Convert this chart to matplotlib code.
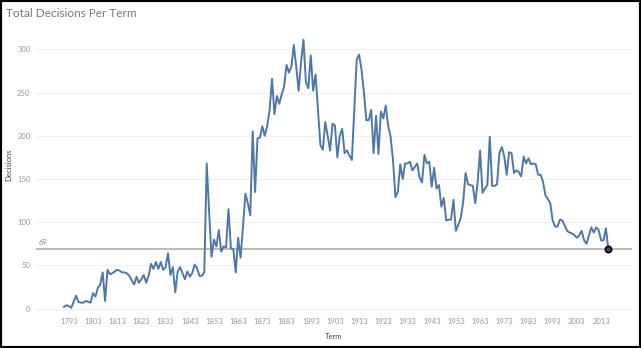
import matplotlib
matplotlib.use('Agg')
import matplotlib.pyplot as plt
import numpy as np
from matplotlib.patches import Rectangle

plt.rcParams['font.family'] = ['Lato', 'DejaVu Sans']

years = np.arange(1791, 2017)
decisions = [
    2, 4, 3, 1, 8, 15, 8, 7, 7, 9,            # 1791-1800
    8, 7, 18, 14, 24, 28, 42, 9, 45, 40,      # 1801-1810
    41, 43, 45, 44, 42, 42, 41, 38, 33, 28,   # 1811-1820
    37, 30, 34, 39, 30, 38, 52, 46, 54, 46,   # 1821-1830
    54, 45, 48, 64, 39, 48, 19, 43, 48, 41,   # 1831-1840
    34, 43, 37, 41, 51, 47, 38, 38, 42, 168,  # 1841-1850
    112, 60, 80, 72, 91, 66, 72, 71, 115, 70, # 1851-1860
    69, 42, 82, 59, 95, 133, 122, 108, 205, 135,  # 1861-1870
    197, 198, 211, 200, 211, 230, 266, 225, 246, 237,  # 1871-1880
    248, 257, 282, 273, 280, 305, 280, 252, 285, 311,  # 1881-1890
    262, 255, 293, 252, 271, 230, 189, 184, 216, 200,  # 1891-1900
    183, 214, 212, 175, 200, 208, 180, 183, 177, 172,  # 1901-1910
    230, 288, 294, 276, 250, 218, 218, 230, 180, 223,  # 1911-1920
    179, 228, 220, 235, 212, 199, 172, 129, 135, 167,  # 1921-1930
    150, 168, 168, 170, 160, 164, 168, 152, 146, 178,  # 1931-1940
    168, 170, 141, 163, 139, 143, 118, 128, 102, 103,  # 1941-1950
    103, 126, 90, 97, 105, 123, 157, 144, 143, 142,    # 1951-1960
    122, 147, 183, 134, 139, 143, 199, 142, 142, 144,  # 1961-1970
    180, 187, 176, 155, 181, 180, 157, 160, 158, 153,  # 1971-1980
    176, 168, 174, 167, 168, 167, 155, 155, 147, 131,  # 1981-1990
    127, 122, 102, 95, 95, 103, 102, 96, 90, 88,       # 1991-2000
    87, 85, 82, 85, 90, 79, 75, 85, 94, 88,            # 2001-2010
    94, 91, 79, 79, 93, 69,                            # 2011-2016
]
x_ticks = list(range(1793, 2014, 10))
y_ticks = [0, 50, 100, 150, 200, 250, 300]
ref_value = 69

fig = plt.figure(figsize=(6.41, 3.48), dpi=100)
ax = fig.add_axes([0.056, 0.103, 0.93, 0.805])

ax.plot(years, decisions, color='#4e79a7', linewidth=1.4, zorder=3)
ax.plot(years[-1], decisions[-1], 'o', markersize=4.5, markerfacecolor='#3a4a5c',
        markeredgecolor='black', markeredgewidth=1.2, zorder=4)

ax.axhline(ref_value, color='#a8a8a8', linewidth=1.1, zorder=2)
ax.text(1780.5, ref_value + 4, str(ref_value), fontsize=5.5, color='#888888',
        va='bottom', ha='left')

ax.set_xlim(1779.4, 2025.8)
ax.set_ylim(-4, 320)
ax.set_xticks(x_ticks)
ax.set_yticks(y_ticks)
ax.tick_params(length=0, labelsize=5.5, labelcolor='#999999', pad=4)
ax.grid(axis='y', color='#f0f0f0', linewidth=0.8, zorder=0)
for s in ax.spines.values():
    s.set_visible(False)

ax.set_xlabel('Term', fontsize=5.5, color='#444444', labelpad=6)
ax.set_ylabel('Decisions', fontsize=5.5, color='#444444')
ax.yaxis.set_label_coords(-0.039, 0.525)

fig.text(0.009, 0.96, 'Total Decisions Per Term', fontsize=8.5, color='#777777',
         va='center', ha='left')

fig.patches.append(Rectangle((0, 0), 1, 1, transform=fig.transFigure, fill=False,
                             edgecolor='black', linewidth=3, zorder=10))

fig.savefig('out.png', dpi=100)
